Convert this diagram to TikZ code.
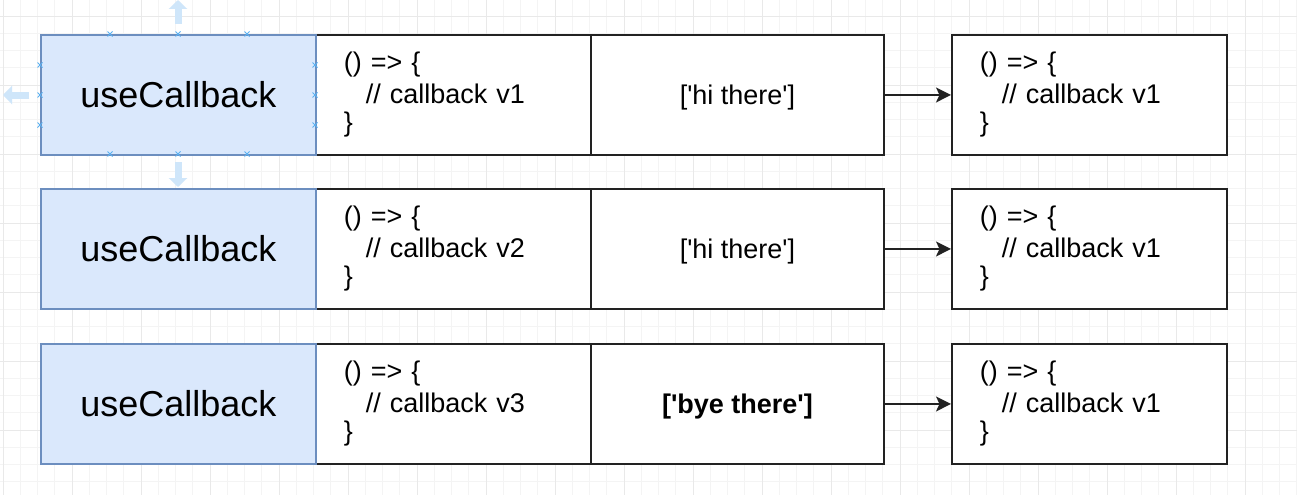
\documentclass[tikz,border=0pt]{standalone}
\usepackage{fontspec}
\setmainfont{Liberation Sans}
\usetikzlibrary{arrows.meta}
\definecolor{gridminor}{HTML}{F4F4F4}
\definecolor{gridmajor}{HTML}{E9E9E9}
\definecolor{hookfill}{HTML}{DAE8FC}
\definecolor{hookdraw}{HTML}{6C8EBF}
\definecolor{handle}{HTML}{5AB0F0}
\definecolor{hint}{HTML}{CFE6FA}
\definecolor{edge}{HTML}{222222}
\newcommand{\q}{\textquotesingle}
\begin{document}
\begin{tikzpicture}[x=1pt,y=-1pt,
  box/.style={draw=edge, line width=1.9pt, fill=white, minimum width=275pt,
    minimum height=120pt, inner ysep=0pt, anchor=north west},
  codebox/.style={box, align=left, text width=219pt, inner xsep=28pt,
    font=\fontsize{27}{28}\selectfont, execute at begin node={\vspace*{4pt}}},
  depbox/.style={box, minimum width=293pt, inner xsep=0pt,
    font=\fontsize{27}{28}\selectfont},
  hookbox/.style={box, fill=hookfill, draw=hookdraw, line width=1.6pt, font=\fontsize{36}{40}\selectfont},
  flow/.style={-{Stealth[length=15pt,width=15pt,inset=3.5pt]}, line width=1.8pt, draw=edge},
  handlemark/.style={draw=handle, line width=0.9pt},
  hintarrow/.style={draw=hint, line width=7pt, -{Triangle[length=9pt,width=18pt]}}]
\useasboundingbox (0,0) rectangle (1297,495);
\fill[white] (0,0) rectangle (1297,495);
% grid
\foreach \i in {0,...,75} {
  \pgfmathsetmacro\gx{3+17.25*\i}
  \draw[gridminor, line width=0.8pt] (\gx,0) -- (\gx,495);
}
\foreach \i in {0,...,28} {
  \pgfmathsetmacro\gy{16+17.25*\i}
  \draw[gridminor, line width=0.8pt] (0,\gy) -- (1297,\gy);
}
\foreach \i in {0,...,18} {
  \pgfmathsetmacro\gx{3+69*\i}
  \draw[gridmajor, line width=0.8pt] (\gx,0) -- (\gx,495);
}
\foreach \i in {0,...,7} {
  \pgfmathsetmacro\gy{16+69*\i}
  \draw[gridmajor, line width=0.8pt] (0,\gy) -- (1297,\gy);
}
% rows
\foreach \row/\ty/\ver/\dep in {1/34/1/{[\q hi there\q]}, 2/188/2/{[\q hi there\q]}, 3/343/3/{\textbf{[\q bye there\q]}}} {
  \node[codebox] (code\row) at (315,\ty) {() => \{\\\hspace*{22pt}// callback v\ver\\\}};
  \node[depbox] (dep\row) at (590,\ty) {\raisebox{-2.5pt}[\height][\depth]{\dep}};
  \node[codebox] (res\row) at (951,\ty) {() => \{\\\hspace*{22pt}// callback v1\\\}};
  \node[hookbox] (hook\row) at (40,\ty) {useCallback};
  \draw[flow] (dep\row.east) -- (res\row.west);
}
% selection hints around the first box
\draw[hintarrow] (178,24) -- (178,0);
\draw[hintarrow] (29,95) -- (3,95);
\draw[hintarrow] (178,162) -- (178,187);
\foreach \hx in {110,178,247} {
  \foreach \hy in {34,154} {
    \draw[handlemark] (\hx-2.5,\hy-2.5) -- (\hx+2.5,\hy+2.5) (\hx-2.5,\hy+2.5) -- (\hx+2.5,\hy-2.5);
  }
}
\foreach \hy in {65,95,125} {
  \foreach \hx in {40,315} {
    \draw[handlemark] (\hx-2.5,\hy-2.5) -- (\hx+2.5,\hy+2.5) (\hx-2.5,\hy+2.5) -- (\hx+2.5,\hy-2.5);
  }
}
\end{tikzpicture}
\end{document}
